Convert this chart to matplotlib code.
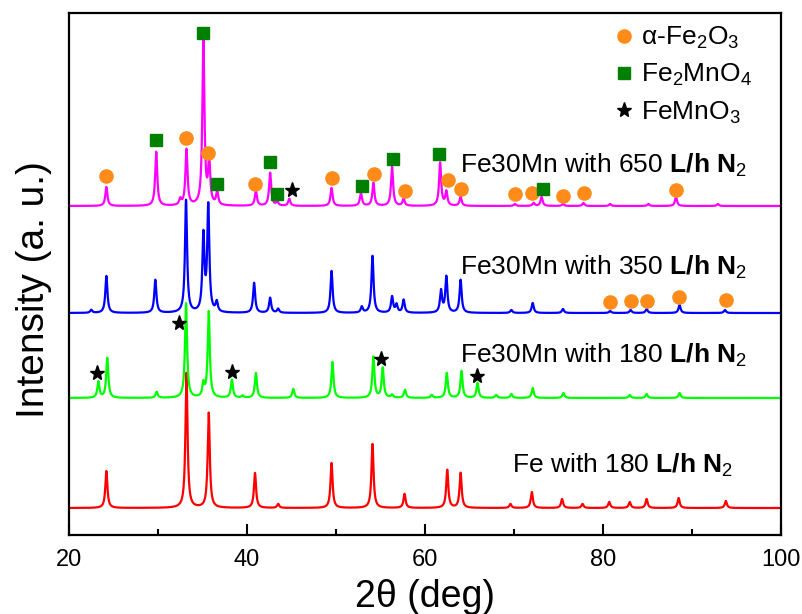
import numpy as np
import matplotlib
matplotlib.use("Agg")
from matplotlib import pyplot as plt
from matplotlib.lines import Line2D
from matplotlib.ticker import MultipleLocator

plt.rcParams['font.family'] = ['Liberation Sans', 'DejaVu Sans']
plt.rcParams['mathtext.fontset'] = 'custom'
plt.rcParams['mathtext.rm'] = 'Liberation Sans'
plt.rcParams['mathtext.it'] = 'Liberation Sans:italic'
plt.rcParams['mathtext.bf'] = 'Liberation Sans:bold'

# peak positions (2theta) and heights above each baseline
red_pos = [24.2, 33.2, 35.7, 40.9, 43.5, 49.5, 54.1, 57.7, 62.5, 64.0, 69.6, 72.0,
           75.4, 77.7, 80.7, 83.0, 84.9, 88.5, 93.8]
red_h = [37, 135, 95, 35, 4, 45, 64, 14, 38, 35, 4, 16, 9, 4, 6, 6, 9, 10, 7]

green_pos = [23.3, 24.3, 29.85, 33.15, 35.1, 35.7, 38.3, 39.5, 41.0, 45.2, 49.6, 54.2,
             55.25, 56.3, 57.75, 60.75, 62.45, 64.1, 65.9, 68.0, 69.7, 72.1, 75.55,
             83.0, 84.9, 88.6]
green_h = [16, 40, 6, 95, 13, 86, 18, 2, 25, 9, 36, 41, 30, 3, 8, 3, 25, 27, 15, 3, 4,
           10, 5, 3, 4, 5]

blue_pos = [22.5, 24.2, 29.7, 33.15, 35.1, 35.65, 36.6, 40.8, 42.6, 43.5, 49.5, 52.9,
            54.1, 56.3, 56.8, 57.6, 61.8, 62.4, 64.0, 69.7, 72.1, 75.5, 80.8, 83.1,
            84.9, 88.6, 93.7]
blue_h = [3, 37, 33, 113, 76, 106, 10, 30, 15, 4, 42, 6, 57, 16, 8, 13, 22, 36, 33, 3,
          10, 4, 2, 3, 4, 8, 3]

mag_pos = [24.2, 29.8, 32.5, 33.2, 35.1, 35.75, 36.65, 41.0, 42.6, 43.4, 44.75, 49.5,
           52.8, 54.2, 56.3, 57.6, 61.7, 62.4, 64.0, 70.1, 72.2, 73.1, 75.5, 77.8,
           80.8, 85.1, 88.2, 92.9]
mag_h = [19, 54, 6, 56, 164, 43, 13, 15, 33, 4, 7, 18, 13, 23, 39, 7, 43, 14, 9, 2, 3,
         9, 2, 3, 2, 2, 9, 2]

# vertical offsets of the stacked patterns
offsets = [27, 137, 222, 329]

# phase markers (2theta, intensity)
hem_x = [24.2, 33.2, 35.65, 40.9, 49.5, 54.3, 57.7, 62.6, 64.05, 70.1, 72.05, 75.5,
         77.85, 88.2, 80.8, 83.1, 84.95, 88.55, 93.8]
hem_y = [359, 397, 382, 351, 357, 361, 344, 355, 346, 341, 342, 339, 342, 345,
         233, 234, 234, 238, 235]
spinel_x = [35.0, 29.8, 36.65, 42.6, 43.4, 52.9, 56.4, 61.6, 73.3]
spinel_y = [502, 395, 351, 373, 341, 349, 376, 381, 346]
perov_x = [45.0, 23.2, 32.4, 38.3, 55.1, 65.8]
perov_y = [345, 162, 212, 163, 176, 159]

sample_labels = ['Fe with 180 $\\mathbf{L/h\\ N}_{2}$',
                 'Fe30Mn with 180 $\\mathbf{L/h\\ N}_{2}$',
                 'Fe30Mn with 350 $\\mathbf{L/h\\ N}_{2}$',
                 'Fe30Mn with 650 $\\mathbf{L/h\\ N}_{2}$']
label_x = [69.8, 63.9, 63.9, 63.9]
label_y = [62, 172, 260, 362]
colors = ['#ff0000', '#00ff00', '#0000ff', '#ff00ff']
phase_names = ['\u03b1-Fe$_2$O$_3$', 'Fe$_2$MnO$_4$', 'FeMnO$_3$']


def pattern(pos, heights, base, width=0.14):
    tt = np.linspace(20, 100, 4001)
    y = np.full_like(tt, float(base))
    for p, h in zip(pos, heights):
        y += h / (1 + ((tt - p) / width) ** 2)
    return tt, y


fig = plt.figure(figsize=(8.02, 6.14), dpi=100)
ax = fig.add_axes([69 / 802, 79 / 614, 712 / 802, 522 / 614])

series = [(red_pos, red_h), (green_pos, green_h), (blue_pos, blue_h), (mag_pos, mag_h)]
for (pos, h), base, c in zip(series, offsets, colors):
    tt, y = pattern(pos, h, base)
    ax.plot(tt, y, color=c, lw=1.6)

ax.plot(hem_x, hem_y, 'o', color='#ff8c1a', ms=9.5, ls='none')
ax.plot(spinel_x, spinel_y, 's', color='#008000', ms=8, ls='none')
ax.plot(perov_x, perov_y, '*', color='black', ms=11, ls='none')

for s, x, y in zip(sample_labels, label_x, label_y):
    ax.text(x, y, s, fontsize=19, va='baseline', ha='left')

handles = [Line2D([], [], marker='o', color='#ff8c1a', ls='none', ms=9.5),
           Line2D([], [], marker='s', color='#008000', ls='none', ms=8),
           Line2D([], [], marker='*', color='black', ls='none', ms=11)]
ax.legend(handles, phase_names, loc='upper left',
          bbox_to_anchor=((611 - 69) / 712, (535 - 25) / 522), frameon=False,
          fontsize=19, handletextpad=0.12, handlelength=1.0, labelspacing=0.42,
          borderaxespad=0, borderpad=0)

ax.set_xlim(20, 100)
ax.set_ylim(0, 522)
ax.set_yticks([])
ax.xaxis.set_major_locator(MultipleLocator(20))
ax.xaxis.set_minor_locator(MultipleLocator(10))
ax.tick_params(axis='x', which='major', direction='in', length=8, width=1.5,
               labelsize=17, pad=10, top=False)
ax.tick_params(axis='x', which='minor', direction='in', length=4.5, width=1.5, top=False)
for sp in ax.spines.values():
    sp.set_linewidth(1.6)

ax.set_xlabel('2\u03b8 (deg)', fontsize=27, labelpad=6)
fig.text(34 / 802, 1 - 290 / 614, 'Intensity (a. u.)', fontsize=28, rotation=90,
         ha='center', va='center')

fig.savefig('out.png', dpi=100)
